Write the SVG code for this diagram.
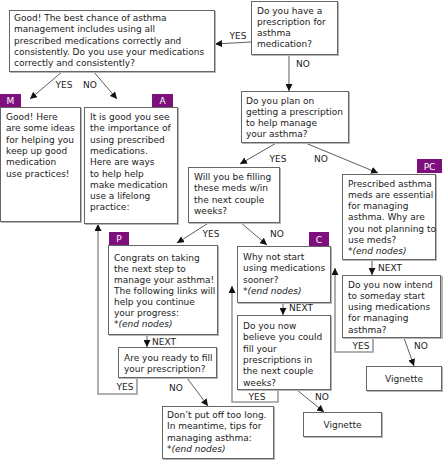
<svg xmlns="http://www.w3.org/2000/svg" width="443" height="463" viewBox="0 0 443 463">
<defs>
<style>
text{font-family:"DejaVu Sans",Verdana,sans-serif;font-size:9px;fill:#222}
.it{font-style:italic}
.box{fill:#fff;stroke:#666;stroke-width:1}
.sh{fill:none;stroke:#b5b5b5;stroke-width:2}
.badge{fill:#7d107d}
.bt{fill:#fff;text-anchor:middle}
.lbl{text-anchor:middle;fill:#222}
.c{fill:none;stroke:#333;stroke-width:0.8}
.g{fill:none;stroke:#999;stroke-width:1.6}
</style>
<marker id="ah" viewBox="0 0 10 10" refX="10" refY="5" markerWidth="7" markerHeight="7" markerUnits="userSpaceOnUse" orient="auto"><path d="M0,0 L10,5 L0,10 z" fill="#111"/></marker>
</defs>
<rect width="443" height="463" fill="#fff"/>

<g id="connectors">
<line class="c" x1="251" y1="42" x2="215" y2="44" marker-end="url(#ah)"/>
<line class="g" x1="289" y1="55" x2="289" y2="91" marker-end="url(#ah)"/>
<line class="c" x1="63" y1="71" x2="30" y2="99" marker-end="url(#ah)"/>
<line class="c" x1="93" y1="71" x2="117" y2="99" marker-end="url(#ah)"/>
<line class="c" x1="278" y1="142" x2="240" y2="164" marker-end="url(#ah)"/>
<line class="c" x1="303" y1="142" x2="378" y2="173" marker-end="url(#ah)"/>
<line class="c" x1="210" y1="222" x2="177" y2="243" marker-end="url(#ah)"/>
<line class="c" x1="240" y1="222" x2="267" y2="245" marker-end="url(#ah)"/>
<line class="c" x1="372" y1="260" x2="372" y2="275" marker-end="url(#ah)"/>
<line class="c" x1="283" y1="302" x2="283" y2="315" marker-end="url(#ah)"/>
<line class="c" x1="147" y1="334" x2="147" y2="347" marker-end="url(#ah)"/>
<polyline class="g" points="373,338 373,352 335,352 335,268" marker-end="url(#ah)"/>
<line class="c" x1="404" y1="338" x2="414" y2="366" marker-end="url(#ah)"/>
<polyline class="g" points="278,390 278,402 232,402 232,286" marker-end="url(#ah)"/>
<line class="c" x1="297" y1="390" x2="324" y2="412" marker-end="url(#ah)"/>
<polyline class="g" points="137,378 137,394 98,394 98,224" marker-end="url(#ah)"/>
<line class="c" x1="187" y1="378" x2="208" y2="406" marker-end="url(#ah)"/>
<text class="lbl" x="238" y="39">YES</text>
<text class="lbl" x="303" y="67">NO</text>
<text class="lbl" x="64" y="88">YES</text>
<text class="lbl" x="90" y="88">NO</text>
<text class="lbl" x="278" y="162">YES</text>
<text class="lbl" x="321" y="162">NO</text>
<text class="lbl" x="211" y="237">YES</text>
<text class="lbl" x="277" y="237">NO</text>
<text x="378" y="271">NEXT</text>
<text x="289" y="311">NEXT</text>
<text x="152" y="345">NEXT</text>
<text class="lbl" x="361" y="349">YES</text>
<text class="lbl" x="421" y="349">NO</text>
<text class="lbl" x="257" y="400">YES</text>
<text class="lbl" x="322" y="400">NO</text>
<text class="lbl" x="125" y="390">YES</text>
<text class="lbl" x="176" y="391">NO</text>
</g>

<g id="q-best">
<path class="sh" d="M215,11 V72 H10"/>
<rect class="box" x="9.5" y="10.5" width="205" height="61"/>
<text x="14" y="21">Good! The best chance of asthma</text>
<text x="14" y="32.3">management includes using all</text>
<text x="14" y="43.6">prescribed medications correctly and</text>
<text x="14" y="54.9">consistently. Do you use your medications</text>
<text x="14" y="66.2">correctly and consistently?</text>
</g>

<g id="q-have">
<path class="sh" d="M338,2 V55 H252"/>
<rect class="box" x="251.5" y="1.5" width="86" height="53"/>
<text x="257" y="13.5">Do you have a</text>
<text x="257" y="24.8">prescription for</text>
<text x="257" y="36.1">asthma</text>
<text x="257" y="47.4">medication?</text>
</g>

<g id="q-plan">
<path class="sh" d="M349,92 V143 H242"/>
<rect class="box" x="241.5" y="91.5" width="107" height="51"/>
<text x="246" y="103.5">Do you plan on</text>
<text x="246" y="114.8">getting a prescription</text>
<text x="246" y="126.1">to help manage</text>
<text x="246" y="137.4">your asthma?</text>
</g>

<g id="m-good">
<rect class="badge" x="0" y="94" width="21" height="13"/>
<text class="bt" x="10.5" y="104">M</text>
<path class="sh" d="M81,108 V222 H1"/>
<rect class="box" x="0.5" y="107.5" width="80" height="114"/>
<text x="6" y="120">Good! Here</text>
<text x="6" y="131.3">are some ideas</text>
<text x="6" y="142.6">for helping you</text>
<text x="6" y="153.9">keep up good</text>
<text x="6" y="165.2">medication</text>
<text x="6" y="176.5">use practices!</text>
</g>

<g id="a-importance">
<rect class="badge" x="152" y="94" width="21" height="13"/>
<text class="bt" x="162.5" y="104">A</text>
<path class="sh" d="M178,108 V224 H85"/>
<rect class="box" x="84.5" y="107.5" width="93" height="116"/>
<text x="90" y="120">It is good you see</text>
<text x="90" y="131.3">the importance of</text>
<text x="90" y="142.6">using prescribed</text>
<text x="90" y="153.9">medications.</text>
<text x="90" y="165.2">Here are ways</text>
<text x="90" y="176.5">to help help</text>
<text x="90" y="187.8">make medication</text>
<text x="90" y="199.1">use a lifelong</text>
<text x="90" y="210.4">practice:</text>
</g>

<g id="q-will">
<path class="sh" d="M280,168 V223 H189"/>
<rect class="box" x="188.5" y="167.5" width="91" height="55"/>
<text x="194" y="180">Will you be filling</text>
<text x="194" y="191.3">these meds w/in</text>
<text x="194" y="202.6">the next couple</text>
<text x="194" y="213.9">weeks?</text>
</g>

<g id="pc-essential">
<rect class="badge" x="417" y="159" width="25" height="14"/>
<text class="bt" x="429.5" y="169.5">PC</text>
<path class="sh" d="M436,175 V260 H343"/>
<rect class="box" x="342.5" y="174.5" width="93" height="85"/>
<text x="348" y="186.5">Prescribed asthma</text>
<text x="348" y="197.8">meds are essential</text>
<text x="348" y="209.1">for managing</text>
<text x="348" y="220.4">asthma. Why are</text>
<text x="348" y="231.7">you not planning to</text>
<text x="348" y="243">use meds?</text>
<text class="it" x="348" y="254.3">*(end nodes)</text>
</g>

<g id="p-congrats">
<rect class="badge" x="109" y="232" width="20" height="13"/>
<text class="bt" x="119" y="242">P</text>
<path class="sh" d="M218,246 V335 H109"/>
<rect class="box" x="108.5" y="245.5" width="109" height="89"/>
<text x="114" y="261">Congrats on taking</text>
<text x="114" y="272">the next step to</text>
<text x="114" y="283">manage your asthma!</text>
<text x="114" y="294">The following links will</text>
<text x="114" y="305">help you continue</text>
<text x="114" y="316">your progress:</text>
<text class="it" x="114" y="327">*(end nodes)</text>
</g>

<g id="c-sooner">
<rect class="badge" x="309" y="232" width="20" height="14"/>
<text class="bt" x="319" y="242.5">C</text>
<path class="sh" d="M331,247 V303 H238"/>
<rect class="box" x="237.5" y="246.5" width="93" height="56"/>
<text x="243" y="260">Why not start</text>
<text x="243" y="271.3">using medications</text>
<text x="243" y="282.6">sooner?</text>
<text class="it" x="243" y="293.9">*(end nodes)</text>
</g>

<g id="q-intend">
<path class="sh" d="M442,276 V338 H343"/>
<rect class="box" x="342.5" y="275.5" width="98" height="62"/>
<text x="348" y="287.5">Do you now intend</text>
<text x="348" y="298.8">to someday start</text>
<text x="348" y="310.1">using medications</text>
<text x="348" y="321.4">for managing</text>
<text x="348" y="332.7">asthma?</text>
</g>

<g id="q-believe">
<path class="sh" d="M331,316 V390 H238"/>
<rect class="box" x="237.5" y="315.5" width="93" height="74"/>
<text x="243" y="329">Do you now</text>
<text x="243" y="340.3">believe you could</text>
<text x="243" y="351.6">fill your</text>
<text x="243" y="362.9">prescriptions in</text>
<text x="243" y="374.2">the next couple</text>
<text x="243" y="385.5">weeks?</text>
</g>

<g id="q-ready">
<path class="sh" d="M217,348 V378 H119"/>
<rect class="box" x="118.5" y="347.5" width="98" height="30"/>
<text x="124" y="361">Are you ready to fill</text>
<text x="124" y="372.3">your prescription?</text>
</g>

<g id="v-upper">
<path class="sh" d="M442,367 V391 H367"/>
<rect class="box" x="366.5" y="366.5" width="75" height="24"/>
<text x="404" y="382" text-anchor="middle">Vignette</text>
</g>

<g id="v-lower">
<path class="sh" d="M382,413 V437 H304"/>
<rect class="box" x="303.5" y="412.5" width="78" height="24"/>
<text x="342.5" y="428" text-anchor="middle">Vignette</text>
</g>

<g id="t-dont">
<path class="sh" d="M274,407 V459 H163"/>
<rect class="box" x="162.5" y="406.5" width="111" height="52"/>
<text x="167" y="418">Don’t put off too long.</text>
<text x="167" y="429.3">In meantime, tips for</text>
<text x="167" y="440.6">managing asthma:</text>
<text class="it" x="167" y="451.9">*(end nodes)</text>
</g>
</svg>
